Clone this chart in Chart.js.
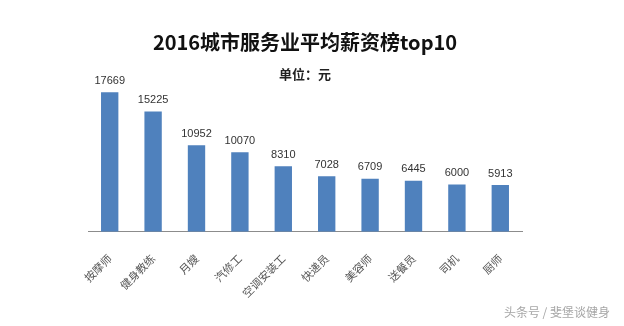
<!DOCTYPE html>
<html lang="zh-CN">
<head>
    <meta charset="UTF-8">
    <title>2016城市服务业平均薪资榜top10</title>
    <script src="https://cdn.jsdelivr.net/npm/chart.js@4/dist/chart.umd.min.js"></script>
    <style>
        html, body {margin: 0; padding: 0; background: #fff}
        #wrap {position: relative; width: 624px; height: 326px}
        #mark {position: absolute; right: 14px; bottom: 6px; font: 12px "Noto Sans CJK SC", sans-serif; color: #a6a6a6}
    </style>
</head>
<body>
<div id="wrap">
    <canvas id="chart" width="624" height="326"></canvas>
    <div id="mark">头条号 / 斐堡谈健身</div>
</div>
<script>

    const jobs = ['按摩师', '健身教练', '月嫂', '汽修工', '空调安装工', '快递员', '美容师', '送餐员', '司机', '厨师'];
    const salaries = [17669, 15225, 10952, 10070, 8310, 7028, 6709, 6445, 6000, 5913];

    // writes each salary above its bar
    const barValues = {
        id: 'barValues',
        afterDatasetsDraw(chart) {
            const ctx = chart.ctx;
            const meta = chart.getDatasetMeta(0);
            ctx.save();
            ctx.font = '11px "Liberation Sans", sans-serif';
            ctx.fillStyle = '#333';
            ctx.textAlign = 'center';
            ctx.textBaseline = 'bottom';
            meta.data.forEach((bar, i) => {
                ctx.fillText(chart.data.datasets[0].data[i], bar.x, bar.y - 6);
            });
            ctx.restore();
        }
    };

    const chart = new Chart('chart', {
        type: 'bar',
        data: {
            labels: jobs,
            datasets: [{
                data: salaries,
                backgroundColor: '#4f81bd',
                barPercentage: 0.4,
                categoryPercentage: 1
            }]
        },
        options: {
            responsive: false,
            animation: false,
            layout: {padding: {left: 88, right: 102, top: 0, bottom: 14}},
            plugins: {
                legend: {display: false},
                tooltip: {enabled: false},
                title: {
                    display: true,
                    text: '2016城市服务业平均薪资榜top10',
                    color: '#111',
                    font: {family: '"Noto Sans CJK SC", sans-serif', size: 20, weight: 'bold'},
                    padding: {top: 30, bottom: 4}
                },
                subtitle: {
                    display: true,
                    text: '单位：元',
                    color: '#222',
                    font: {family: '"Noto Sans CJK SC", sans-serif', size: 13, weight: 'bold'},
                    padding: {top: 8, bottom: 8}
                }
            },
            scales: {
                y: {display: false, min: 0, max: 18000},
                x: {
                    grid: {display: false},
                    border: {display: true, color: '#8c8c8c', width: 1},
                    ticks: {
                        minRotation: 45,
                        maxRotation: 45,
                        color: '#555',
                        padding: 12,
                        font: {family: '"Noto Sans CJK SC", sans-serif', size: 11}
                    }
                }
            }
        },
        plugins: [barValues]
    });

</script>
</body>
</html>
